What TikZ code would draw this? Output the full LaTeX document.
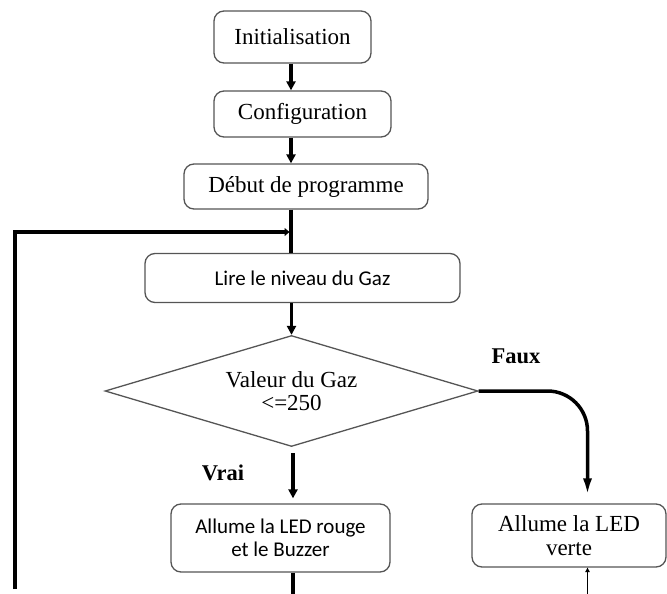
\documentclass[tikz,border=0pt]{standalone}
\usepackage{fontspec}
\setmainfont{Liberation Serif}
\newfontfamily\calib{Carlito}
\usetikzlibrary{shapes.geometric,arrows.meta}
\definecolor{boxgray}{HTML}{555555}
\begin{document}
\begin{tikzpicture}[x=1pt,y=-1pt,
  stepbox/.style={draw=boxgray, line width=1.3pt, rounded corners=10pt,
    inner sep=0pt, align=center, font=\fontsize{23}{24}\selectfont},
  sansbox/.style={stepbox, font=\calib\fontsize{21}{23.5}\selectfont},
  testbox/.style={draw=boxgray, line width=1.3pt, diamond, aspect=3.3,
    inner sep=0pt, align=center, font=\fontsize{23}{23.5}\selectfont},
  lbl/.style={inner sep=0pt, font=\bfseries\fontsize{22.5}{24}\selectfont},
  wire/.style={line width=3.5pt},
  flow/.style={wire, -{Triangle[width=9pt,length=9pt]}},
  longflow/.style={wire, -{Latex[width=9pt,length=18pt]}},
  thinflow/.style={line width=1pt, -{Triangle[width=4.5pt,length=4.5pt]}}]
\useasboundingbox (0,0) rectangle (667,594);

% process boxes
\node[stepbox, minimum width=157pt, minimum height=52pt] (init)  at (292.5,37)  {Initialisation};
\node[stepbox, minimum width=177pt, minimum height=46pt] (conf)  at (302.5,114) {Configuration};
\node[stepbox, minimum width=244pt, minimum height=45pt] (debut) at (306,186.5) {Début de programme};
\node[sansbox, minimum width=315pt, minimum height=49pt] (lire)  at (302.5,278) {Lire le niveau du Gaz};
\node[testbox, minimum width=373pt, minimum height=111pt] (test) at (291.5,391) {Valeur du Gaz\\<=250};
\node[sansbox, minimum width=219pt, minimum height=68pt] (rouge) at (280.5,538) {Allume la LED rouge\\et le Buzzer};
\node[stepbox, minimum width=194pt, minimum height=63pt] (verte) at (569,535.5) {Allume la LED\\verte};

% branch labels
\node[lbl] (faux) at (516,356) {Faux};
\node[lbl] (vrai) at (223,473) {Vrai};

% helper points
\coordinate (spine) at (291,0);
\coordinate (join) at (289.5,232);
\coordinate (loopbase) at (15,589);
\coordinate (vraitop) at (293,453);
\coordinate (fauxcol) at (587.5,0);
\coordinate (rougeout) at (293,594);
\coordinate (verteout) at (587.5,594);

% main sequence
\draw[flow] (spine |- init.south) -- (spine |- conf.north);
\draw[flow] (spine |- conf.south) -- (spine |- debut.north);
\draw[wire] (spine |- debut.south) -- (spine |- lire.north);
\draw[flow] (test.north |- lire.south) -- (test.north);

% return loop
\draw[line width=3.8pt, -{Triangle[width=8pt,length=5pt]}] (loopbase) |- (join);

% decision branches
\draw[flow, shorten >=5pt] (vraitop) -- (vraitop |- rouge.north);
\draw[longflow, rounded corners=40pt, shorten >=7pt] (test.east) -| (fauxcol |- verte.north);

% outgoing lines
\draw[wire] (rougeout |- rouge.south) -- (rougeout);
\draw[thinflow] (verteout) -- (verteout |- verte.south);
\end{tikzpicture}
\end{document}
